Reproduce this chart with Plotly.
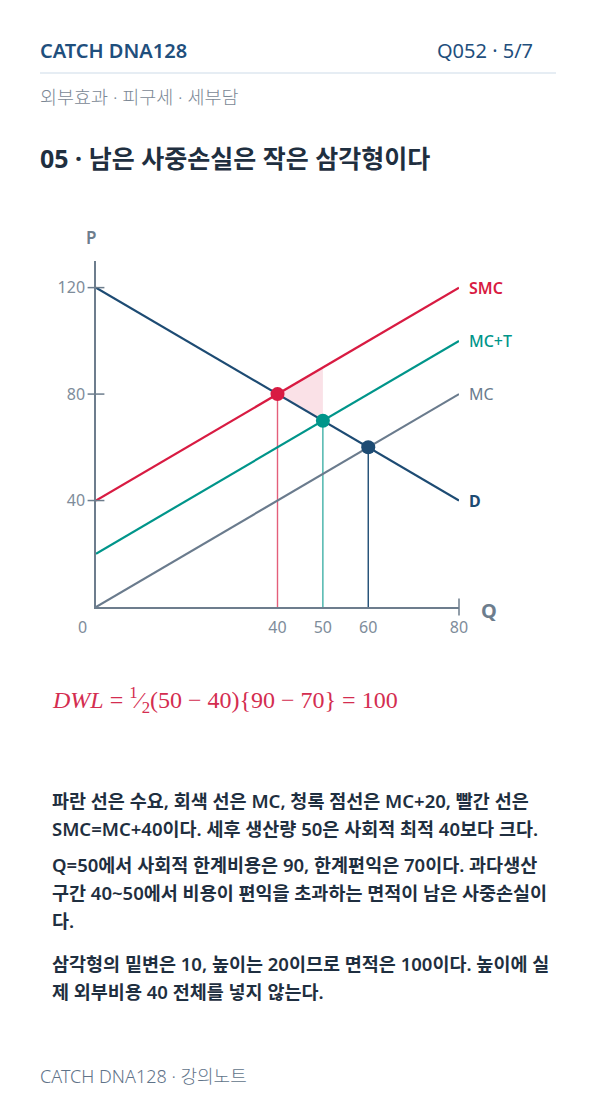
import plotly.graph_objects as go

# ---------------- data ----------------
Q_ENDS = [0, 80]
D_P = [120, 40]
MC_P = [0, 80]
MCT_P = [20, 100]
SMC_P = [40, 120]

EQ_Q = [40, 50, 60]          # social optimum, after-tax, market
EQ_P = [80, 70, 60]

DWL_Q = [40, 50, 50, 40]
DWL_P = [80, 90, 70, 80]

X_TICKS = [40, 50, 60, 80]
Y_TICKS = [40, 80, 120]
X_RANGE = [0, 80]
Y_RANGE = [0, 130]

LINE_LABELS = ["SMC", "MC+T", "MC", "D"]

BODY_LINES = [
    "파란 선은 수요, 회색 선은 MC, 청록 점선은 MC+20, 빨간 선은",
    "SMC=MC+40이다. 세후 생산량 50은 사회적 최적 40보다 크다.",
    "Q=50에서 사회적 한계비용은 90, 한계편익은 70이다. 과다생산",
    "구간 40~50에서 비용이 편익을 초과하는 면적이 남은 사중손실이",
    "다.",
    "삼각형의 밑변은 10, 높이는 20이므로 면적은 100이다. 높이에 실",
    "제 외부비용 40 전체를 넣지 않는다.",
]
BODY_Y = [800, 828, 864, 892, 920, 963, 991]

# ---------------- style ----------------
W, H = 596, 1106
ML, MR, MT, MB = 96, 137, 261, 499
PW, PH = W - ML - MR, H - MT - MB

NAVY = "#1d4b73"
HEAD = "#1f4f7d"
RED = "#d81b42"
TEAL = "#00958a"
GRAY = "#6a7b8d"
AXIS = "#6d7d8d"
TICKC = "#7e8c9a"
TEXT = "#1f2f40"
FONT = "Noto Sans, Noto Sans CJK KR, sans-serif"


def px(x):
    return (x - ML) / PW


def py(y):
    return (H - MB - y) / PH


fig = go.Figure()

# DWL triangle
fig.add_trace(go.Scatter(x=DWL_Q, y=DWL_P, fill="toself", mode="lines",
                         fillcolor="rgba(216,27,66,0.13)", line=dict(width=0),
                         hoverinfo="skip", showlegend=False))

# drop lines
drop_colors = ["rgba(216,27,66,0.7)", "rgba(0,149,138,0.75)", NAVY]
for q, p, c in zip(EQ_Q, EQ_P, drop_colors):
    fig.add_trace(go.Scatter(x=[q, q], y=[0, p], mode="lines",
                             line=dict(color=c, width=1.4),
                             hoverinfo="skip", showlegend=False))

# main curves
curves = [(MC_P, GRAY), (MCT_P, TEAL), (SMC_P, RED), (D_P, NAVY)]
for ys, c in curves:
    fig.add_trace(go.Scatter(x=Q_ENDS, y=ys, mode="lines",
                             line=dict(color=c, width=2.2),
                             hoverinfo="skip", showlegend=False))

# equilibrium points
fig.add_trace(go.Scatter(x=EQ_Q, y=EQ_P, mode="markers",
                         marker=dict(size=14, color=[RED, TEAL, NAVY]),
                         cliponaxis=False, hoverinfo="skip", showlegend=False))

# crossing ticks
fig.add_trace(go.Scatter(x=[X_RANGE[1]], y=[Y_RANGE[0]], mode="markers",
                         marker=dict(symbol="line-ns", size=12,
                                     line=dict(color=AXIS, width=1.5)),
                         cliponaxis=False, hoverinfo="skip", showlegend=False))
fig.add_trace(go.Scatter(x=[X_RANGE[0]] * len(Y_TICKS), y=Y_TICKS, mode="markers",
                         marker=dict(symbol="line-ew", size=12,
                                     line=dict(color=AXIS, width=1.5)),
                         cliponaxis=False, hoverinfo="skip", showlegend=False))

fig.update_xaxes(range=X_RANGE, showgrid=False, zeroline=False, showline=True,
                 linecolor=AXIS, linewidth=1.5, tickvals=X_TICKS,
                 ticks="", ticklabelstandoff=5,
                 tickfont=dict(family=FONT, size=16, color=TICKC), fixedrange=True)
fig.update_yaxes(range=Y_RANGE, showgrid=False, zeroline=False, showline=True,
                 linecolor=AXIS, linewidth=1.5, tickvals=Y_TICKS,
                 ticks="", ticklabelstandoff=6,
                 tickfont=dict(family=FONT, size=16, color=TICKC), fixedrange=True)

ann = []


def note(text, x, y, size, color, anchor="left", weight=None, family=FONT, xref="paper", yref="paper", **kw):
    f = dict(family=family, size=size, color=color)
    if weight:
        f["weight"] = weight
    if anchor == "left" and xref == "paper":
        kw.setdefault("xshift", -2)
    ann.append(dict(text=text, x=x, y=y, xref=xref, yref=yref, xanchor=anchor,
                    yanchor=kw.pop("yanchor", "middle"), showarrow=False, font=f, **kw))


# header
note("CATCH DNA128", px(40), py(50), 20, HEAD, weight=600)
note("Q052 · 5/7", px(437), py(50), 20, HEAD)
note("외부효과 · 피구세 · 세부담", px(40), py(96), 18.5, "#7b8895", weight=300)
note("05 · 남은 사중손실은 작은 삼각형이다", px(40), py(158), 25, TEXT, weight=700)

# axis titles
note("P", px(91), py(237), 17, AXIS, anchor="center", weight=600)
note("Q", px(489), py(610), 20, AXIS, anchor="center", weight=700)
note("0", 0, 0, 16, TICKC, anchor="right", xref="x", yref="y",
     yanchor="top", xshift=-7, yshift=-7)

# curve labels
for lab, ys, c, w in zip(LINE_LABELS, [SMC_P, MCT_P, MC_P, D_P],
                         [RED, TEAL, GRAY, NAVY], [600, 500, 400, 700]):
    note(lab, Q_ENDS[1], ys[1], 16, c, weight=w, xref="x", yref="y", xshift=8)

# formula
note("<i>DWL</i> = <sup>1</sup>⁄<sub>2</sub>(50 − 40){90 − 70} = 100",
     px(52), py(700), 24, "#d42d50", family="Liberation Serif, DejaVu Serif, serif")

# body
for line, y in zip(BODY_LINES, BODY_Y):
    note(line, px(52), py(y), 18.5, TEXT, weight=600)

# footer
note("CATCH DNA128 · 강의노트", px(40), py(1076), 18, "#5f7389", weight=300)

fig.update_layout(
    width=W, height=H, margin=dict(l=ML, r=MR, t=MT, b=MB),
    paper_bgcolor="white", plot_bgcolor="white",
    annotations=ann, showlegend=False,
    shapes=[dict(type="line", xref="paper", yref="paper", x0=px(40), x1=px(556),
                 y0=py(73), y1=py(73), line=dict(color="#cddbe8", width=1))],
)

fig.write_html("out.html", config={"displayModeBar": False},
               post_script="document.body.style.margin='0px';")
